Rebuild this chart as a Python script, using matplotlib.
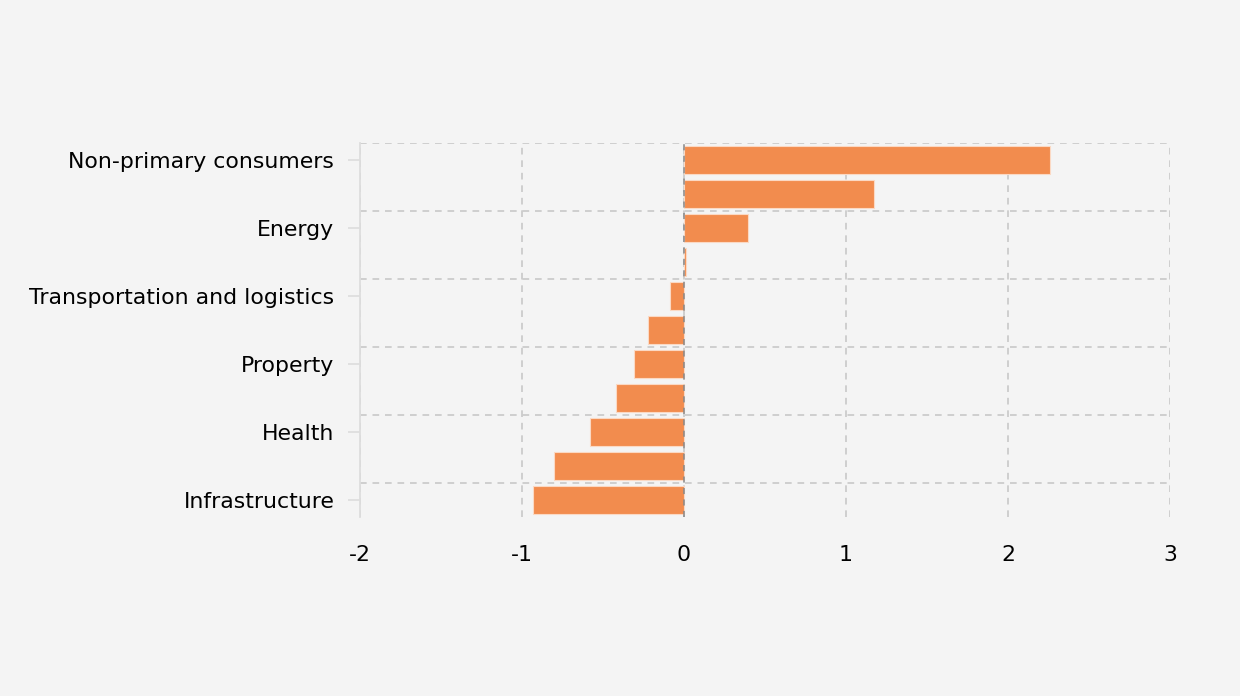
import numpy as np
import matplotlib
matplotlib.use('Agg')
from matplotlib import pyplot as plt

# categories top -> bottom; only every other one carries a label in the chart
categories = ['Non-primary consumers', '', 'Energy', '', 'Transportation and logistics', '',
              'Property', '', 'Health', '', 'Infrastructure']
values = [2.26, 1.17, 0.395, 0.01, -0.086, -0.22, -0.31, -0.42, -0.58, -0.80, -0.93]
x_ticks = [-2, -1, 0, 1, 2, 3]

bg = '#f4f4f4'
fig = plt.figure(figsize=(12.4, 6.96), dpi=100, facecolor=bg)
ax = fig.add_axes([360/1240, 1 - 517/696, 810/1240, 374/696], facecolor=bg)

y = np.arange(len(categories))
ax.barh(y, values, height=0.82, color='#f28c4e', edgecolor='#fbd9c4', linewidth=0.8, zorder=3)

ax.set_xlim(-2, 3)
ax.set_ylim(len(categories) - 0.5, -0.5)

# labelled ticks on every other category
lab_pos = y[::2]
ax.set_yticks(lab_pos)
ax.set_yticklabels([categories[i] for i in lab_pos], fontsize=15.8, color='#000000')
ax.tick_params(axis='y', length=8.5, width=1.2, color='#dddddd', pad=10)

# split lines at band boundaries
ax.set_yticks(np.arange(-0.5, len(categories) - 1, 2), minor=True)
ax.tick_params(axis='y', which='minor', length=0)
ax.grid(axis='y', which='minor', color='#c8c8c8', linestyle=(0, (4, 3.5)), linewidth=1.2, zorder=0)

ax.set_xticks(x_ticks)
ax.set_xticklabels([str(t) for t in x_ticks], fontsize=15.8, color='#000000')
ax.tick_params(axis='x', length=0, pad=20.5)
ax.grid(axis='x', which='major', color='#c8c8c8', linestyle=(0, (4, 3.5)), linewidth=1.2, zorder=0)

ax.axvline(0, color='#888888', linestyle=(0, (4, 3.5)), linewidth=1.1, zorder=4)

for s in ['top', 'right', 'bottom']:
    ax.spines[s].set_visible(False)
ax.spines['left'].set_color('#dddddd')
ax.spines['left'].set_linewidth(1.3)
ax.spines['left'].set_zorder(5)

fig.savefig('out.png', dpi=100, facecolor=bg)
